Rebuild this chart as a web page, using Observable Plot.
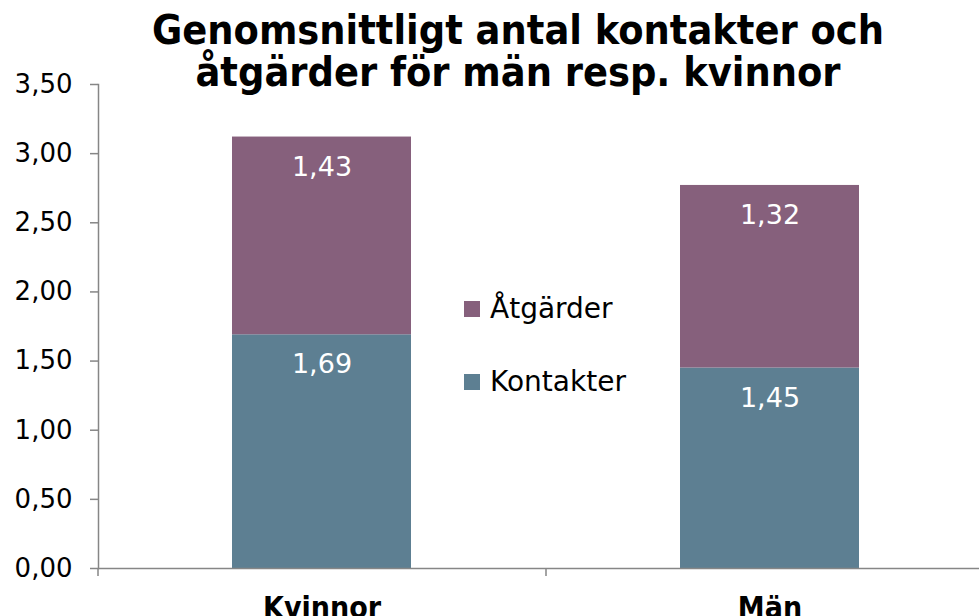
<!DOCTYPE html>
<html>
<head>
<meta charset="utf-8">
<script src="https://cdn.jsdelivr.net/npm/d3@7"></script>
<script src="https://cdn.jsdelivr.net/npm/@observablehq/plot@0.6"></script>
<style>
  html, body { margin: 0; padding: 0; background: #fff; }
  #wrap { position: relative; width: 979px; height: 616px; overflow: hidden; background: #fff; }
  #chart { position: absolute; left: 0; top: 0; }
  #title {
    position: absolute; left: 118px; width: 800px; top: 9px;
    text-align: center; font-family: "DejaVu Sans Condensed", "DejaVu Sans", sans-serif;
    font-stretch: condensed; font-weight: bold; font-size: 41px; line-height: 42px; color: #000;
  }
  #legend { position: absolute; left: 464px; top: 289px; font-family: "DejaVu Sans", sans-serif; font-size: 28px; color: #000; }
  .item { display: flex; align-items: center; height: 40px; line-height: 40px; margin-bottom: 33px; }
  .sw { width: 16px; height: 16px; margin-right: 10px; }
</style>
</head>
<body>
<div id="wrap">
  <div id="chart"></div>
  <div id="title"></div>
  <div id="legend"></div>
</div>
<script>
const titleLines = ["Genomsnittligt antal kontakter och", "åtgärder för män resp. kvinnor"];
const categories = ["Kvinnor", "Män"];
const series = ["Kontakter", "Åtgärder"];
const kontakter = [1.69, 1.45];
const atgarder = [1.43, 1.32];
const yTicks = [0, 0.5, 1, 1.5, 2, 2.5, 3, 3.5];
const colors = {"Kontakter": "#5d7f92", "Åtgärder": "#86607c"};
const legendOrder = ["Åtgärder", "Kontakter"];

const data = [];
categories.forEach((c, i) => {
  data.push({cat: c, series: "Kontakter", value: kontakter[i]});
  data.push({cat: c, series: "Åtgärder", value: atgarder[i]});
});

const fmt = d => d.toFixed(2).replace(".", ",");
const axisGray = "#868686";

const plot = Plot.plot({
  width: 979,
  height: 616,
  marginTop: 84,
  marginBottom: 48,
  marginLeft: 98,
  marginRight: 0,
  style: {fontFamily: "DejaVu Sans", fontSize: "26px", background: "#fff"},
  x: {domain: categories, range: [98, 994], paddingInner: 0.6, paddingOuter: 0.3, axis: null},
  y: {domain: [0, 3.5], axis: null},
  color: {domain: series, range: series.map(s => colors[s])},
  marks: [
    Plot.barY(data, {x: "cat", y: "value", fill: "series"}),
    Plot.text(data, Plot.stackY2({x: "cat", y: "value", text: d => fmt(d.value), fill: "white", fontSize: 27, dy: 30, fontFamily: "DejaVu Sans"})),
    Plot.frame({anchor: "left", stroke: axisGray, strokeWidth: 1.5}),
    Plot.ruleY([0], {stroke: axisGray, strokeWidth: 1.5}),
    Plot.axisY({ticks: yTicks, tickFormat: fmt, tickSize: 8, tickPadding: 18, stroke: axisGray, fill: "#000", fontSize: 26, label: null, strokeWidth: 1.5}),
    Plot.axisX({tickSize: 8, dx: -224, text: null, stroke: axisGray, strokeWidth: 1.5, label: null}),
    Plot.axisX({tickSize: 0, tickPadding: 28, fontSize: 30, fontWeight: "bold", fontFamily: "DejaVu Sans Condensed", fill: "#000", label: null})
  ]
});
document.getElementById("chart").appendChild(plot);

document.getElementById("title").innerHTML = titleLines.join("<br>");
const leg = document.getElementById("legend");
legendOrder.forEach(s => {
  const row = document.createElement("div");
  row.className = "item";
  const sw = document.createElement("div");
  sw.className = "sw";
  sw.style.background = colors[s];
  const t = document.createElement("span");
  t.textContent = s;
  row.appendChild(sw);
  row.appendChild(t);
  leg.appendChild(row);
});
</script>
</body>
</html>
